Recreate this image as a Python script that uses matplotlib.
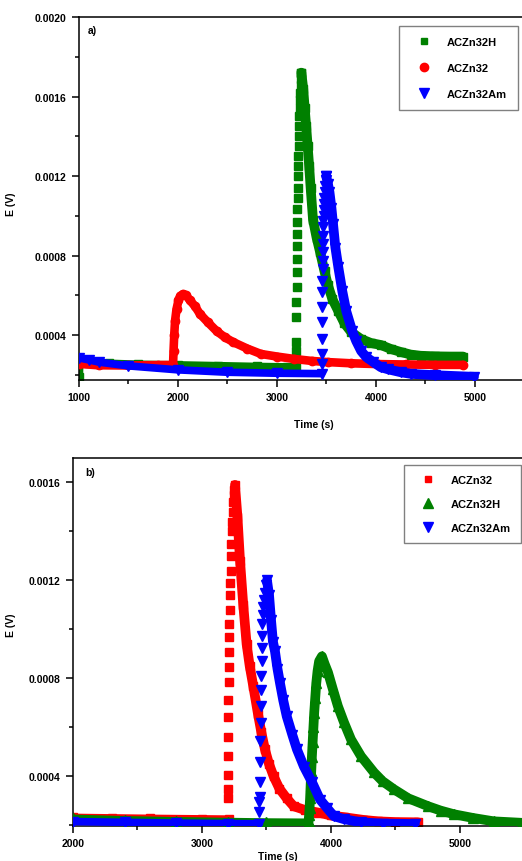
import matplotlib.pyplot as plt
from matplotlib.lines import Line2D
from matplotlib.ticker import MultipleLocator, FormatStrFormatter

plt.rcParams['font.family'] = ['Liberation Sans', 'DejaVu Sans']
plt.rcParams['font.weight'] = 'bold'

GREEN = '#008000'
RED = '#ff0000'
BLUE = '#0000ff'

# ---------------- panel a) ----------------
# ACZn32H (green squares)
a_h_t_base = [1003, 1008, 1100, 1300, 1600, 2000, 2400, 2800, 3100, 3195]
a_h_e_base = [0.00019, 0.00027, 0.000262, 0.000258, 0.000253, 0.00025, 0.000246, 0.000242, 0.00024, 0.000238]
a_h_t_rise = [3193, 3194, 3196, 3197, 3198, 3199, 3200, 3202, 3203, 3204, 3206, 3208, 3210,
              3212, 3214, 3216, 3218, 3221, 3224, 3227, 3230, 3233, 3236, 3239, 3242, 3246]
a_h_e_rise = [0.00032, 0.000365, 0.000489, 0.000568, 0.00064, 0.000715, 0.000782, 0.000849, 0.000908,
              0.00097, 0.001034, 0.00109, 0.00114, 0.0012, 0.00125, 0.0013, 0.00135, 0.0014, 0.00145,
              0.0015, 0.00154, 0.00158, 0.00162, 0.00166, 0.00169, 0.00172]
a_h_t_decay = [3246, 3265, 3280, 3295, 3310, 3325, 3340, 3364, 3400, 3434, 3480, 3515, 3560, 3620,
               3680, 3750, 3850, 3950, 4050, 4150, 4250, 4350, 4450, 4600, 4750, 4880]
a_h_e_decay = [0.00172, 0.00164, 0.00154, 0.00145, 0.00135, 0.00125, 0.00114, 0.00098, 0.00089,
               0.00082, 0.00072, 0.00065, 0.00058, 0.00052, 0.00046, 0.000415, 0.00038, 0.00036,
               0.00035, 0.00033, 0.000315, 0.000302, 0.000296, 0.000293, 0.000292, 0.000292]

# ACZn32 (red circles)
a_r_t = [1000, 1200, 1500, 1800, 1950, 1955, 1962, 1970, 1985, 2005, 2025, 2050, 2080, 2120, 2170,
         2222, 2300, 2390, 2470, 2556, 2700, 2838, 3000, 3172, 3350, 3515, 3750, 4020, 4300, 4600, 4880]
a_r_e = [0.000255, 0.000248, 0.000247, 0.000249, 0.00025, 0.00032, 0.0004, 0.00047, 0.00053, 0.000575,
         0.000598, 0.000606, 0.0006, 0.000575, 0.000546, 0.000506, 0.000465, 0.00042, 0.00039, 0.000365,
         0.000332, 0.000305, 0.000292, 0.00028, 0.00027, 0.000264, 0.000258, 0.000254, 0.000252,
         0.00025, 0.00025]

# ACZn32Am (blue down triangles)
a_m_t_base = [1000, 1100, 1200, 1500, 2000, 2500, 3000, 3450]
a_m_e_base = [0.000285, 0.000275, 0.000264, 0.000245, 0.000225, 0.000213, 0.000208, 0.000206]
a_m_t_rise = [3450, 3451, 3452, 3453, 3455, 3457, 3458, 3460, 3461, 3462, 3463, 3465, 3466, 3468,
              3470, 3472, 3475, 3478, 3482, 3486, 3491, 3497]
a_m_e_rise = [0.000254, 0.000304, 0.00038, 0.000465, 0.000541, 0.000616, 0.000672, 0.000732, 0.000772,
              0.000818, 0.000858, 0.000898, 0.000943, 0.000974, 0.001, 0.00103, 0.00106, 0.00109,
              0.00112, 0.00115, 0.00118, 0.0012]
a_m_t_decay = [3497, 3515, 3530, 3550, 3566, 3590, 3620, 3660, 3700, 3760, 3800, 3850, 3900, 3970,
               4050, 4120, 4250, 4350, 4600, 4990]
a_m_e_decay = [0.0012, 0.00116, 0.00112, 0.00104, 0.00096, 0.00084, 0.00074, 0.00062, 0.00052,
               0.00042, 0.00037, 0.00032, 0.00029, 0.000265, 0.000238, 0.000228, 0.000213,
               0.000205, 0.000198, 0.00019]

# ---------------- panel b) ----------------
# ACZn32 (red squares)
b_r_t_base = [2000, 2300, 2600, 3000, 3210]
b_r_e_base = [0.000232, 0.00023, 0.000228, 0.000226, 0.000225]
b_r_t_rise = [3198, 3199, 3200, 3201, 3202, 3203, 3204, 3206, 3207, 3209, 3211, 3213, 3215, 3217,
              3219, 3222, 3225, 3228, 3231, 3235, 3239, 3243, 3247, 3251]
b_r_e_rise = [0.00031, 0.00035, 0.000404, 0.000482, 0.000559, 0.000641, 0.00071, 0.000784, 0.000845,
              0.000906, 0.000967, 0.00102, 0.00108, 0.00114, 0.00119, 0.00124, 0.0013, 0.00135,
              0.0014, 0.00144, 0.00148, 0.00152, 0.00155, 0.00157]
b_r_t_decay = [3256, 3275, 3295, 3320, 3346, 3370, 3397, 3434, 3460, 3488, 3520, 3555, 3600, 3657,
               3710, 3800, 3900, 4000, 4100, 4250, 4364, 4500, 4674]
b_r_e_decay = [0.00159, 0.00146, 0.00128, 0.0011, 0.00094, 0.00085, 0.00077, 0.000655, 0.00058,
               0.00051, 0.00045, 0.0004, 0.00035, 0.00031, 0.000278, 0.000262, 0.000252, 0.00024,
               0.000233, 0.000222, 0.000216, 0.000213, 0.000212]

# ACZn32H (green up triangles)
b_h_t_base = [2000, 2400, 2800, 3200, 3500, 3826]
b_h_e_base = [0.000228, 0.000222, 0.000218, 0.000215, 0.000213, 0.000212]
b_h_t_peak = [3826, 3830, 3834, 3838, 3842, 3847, 3852, 3858, 3864, 3870, 3878, 3886, 3896, 3908,
              3930, 3950, 3977, 4015, 4054, 4101, 4155, 4233, 4333, 4400, 4488, 4600, 4752, 4850,
              4953, 5100, 5263, 5480]
b_h_e_peak = [0.000212, 0.00024, 0.00027, 0.00031, 0.00036, 0.00042, 0.00048, 0.00054, 0.0006,
              0.00066, 0.00072, 0.00078, 0.00083, 0.00087, 0.00089, 0.00086, 0.000824, 0.000755,
              0.000686, 0.00062, 0.000551, 0.000482, 0.000416, 0.00038, 0.000347, 0.00031,
              0.000278, 0.00026, 0.000245, 0.00023, 0.000216, 0.00021]

# ACZn32Am (blue down triangles)
b_m_t_base = [2000, 2400, 2800, 3200, 3445]
b_m_e_base = [0.000215, 0.000212, 0.000209, 0.000207, 0.000206]
b_m_t_rise = [3442, 3444, 3446, 3448, 3450, 3452, 3454, 3456, 3458, 3460, 3462, 3464, 3466, 3469,
              3472, 3476, 3481, 3487, 3494]
b_m_e_rise = [0.000253, 0.000294, 0.000316, 0.000376, 0.000457, 0.000543, 0.000616, 0.000686,
              0.000751, 0.000808, 0.000869, 0.000926, 0.000975, 0.00102, 0.00106, 0.00109,
              0.00112, 0.00115, 0.00118]
b_m_t_decay = [3504, 3520, 3535, 3550, 3566, 3585, 3605, 3630, 3657, 3700, 3736, 3790, 3853, 3915,
               3970, 4023, 4100, 4233, 4400, 4650]
b_m_e_decay = [0.0012, 0.00114, 0.00104, 0.00095, 0.00091, 0.00084, 0.00078, 0.00071, 0.000645,
               0.00057, 0.00051, 0.00044, 0.000376, 0.000305, 0.00027, 0.000237, 0.000225,
               0.000212, 0.000207, 0.000205]

LW_BASE = 5.5
LW_PEAK = 7.0


def band(ax, t, e, color, marker, ms, z, lw):
    ax.plot(t, e, color=color, lw=lw, marker=marker, ms=ms, mec=color,
            solid_joinstyle='round', solid_capstyle='round', zorder=z)


def dots(ax, t, e, color, marker, ms, z):
    ax.plot(t, e, ls='none', color=color, marker=marker, ms=ms, mec=color, zorder=z)


def style(ax, xmaj, ymaj):
    ax.spines['right'].set_visible(False)
    for s in ('left', 'bottom', 'top'):
        ax.spines[s].set_linewidth(1.1)
    ax.xaxis.set_major_locator(MultipleLocator(xmaj))
    ax.xaxis.set_minor_locator(MultipleLocator(xmaj / 2))
    ax.yaxis.set_major_locator(MultipleLocator(ymaj))
    ax.yaxis.set_minor_locator(MultipleLocator(ymaj / 2))
    ax.yaxis.set_major_formatter(FormatStrFormatter('%.4f'))
    ax.tick_params(which='major', direction='out', length=5, width=1.1, labelsize=7.5, pad=4)
    ax.tick_params(which='minor', direction='out', length=3, width=1.1)
    ax.tick_params(top=False, right=False, which='both')
    for lab in ax.get_xticklabels() + ax.get_yticklabels():
        lab.set_fontweight('bold')


fig = plt.figure(figsize=(5.22, 8.62), dpi=100)

# ---- a) ----
ax = fig.add_axes([79 / 522, 1 - 381 / 862, 443 / 522, 363 / 862])
band(ax, a_h_t_base, a_h_e_base, GREEN, 's', 5.5, 2, LW_BASE)
band(ax, a_h_t_decay, a_h_e_decay, GREEN, 's', 5.5, 2, LW_PEAK)
dots(ax, a_h_t_rise, a_h_e_rise, GREEN, 's', 5.5, 2)
band(ax, a_r_t, a_r_e, RED, 'o', 6, 3, 6.2)
band(ax, a_m_t_base, a_m_e_base, BLUE, 'v', 6.5, 4, LW_BASE)
band(ax, a_m_t_decay, a_m_e_decay, BLUE, 'v', 6.5, 4, LW_PEAK)
dots(ax, a_m_t_rise, a_m_e_rise, BLUE, 'v', 6.5, 4)
ax.set_xlim(1000, 5475)
ax.set_ylim(0.000174, 0.0020)
style(ax, 1000, 0.0004)
ax.set_xlabel('Time (s)', fontsize=7.5, fontweight='bold')
ax.xaxis.set_label_coords(0.53, -0.107)
ax.set_ylabel('E (V)', fontsize=7.5, fontweight='bold')
ax.yaxis.set_label_coords(-0.142, 0.488)
ax.text(0.02, 0.963, 'a)', transform=ax.transAxes, fontsize=7.5, fontweight='bold',
        ha='left', va='center')
handles = [Line2D([], [], ls='none', marker='s', color=GREEN, ms=5),
           Line2D([], [], ls='none', marker='o', color=RED, ms=6),
           Line2D([], [], ls='none', marker='v', color=BLUE, ms=7)]
leg = ax.legend(handles, ['ACZn32H', 'ACZn32', 'ACZn32Am'], loc='upper left',
                bbox_to_anchor=((399 - 79) / 443, (381 - 27) / 363), fontsize=8,
                frameon=True, fancybox=False, framealpha=1, edgecolor='#808080',
                borderpad=1.0, labelspacing=1.43, handlelength=2.5, handletextpad=0.8,
                borderaxespad=0)
leg.get_frame().set_linewidth(1.0)
for txt in leg.get_texts():
    txt.set_fontweight('bold')

# ---- b) ----
ax = fig.add_axes([73 / 522, 1 - 827 / 862, 449 / 522, 368 / 862])
band(ax, b_r_t_base, b_r_e_base, RED, 's', 5.5, 2, LW_BASE)
band(ax, b_r_t_decay, b_r_e_decay, RED, 's', 5.5, 2, LW_PEAK)
dots(ax, b_r_t_rise, b_r_e_rise, RED, 's', 5.5, 2)
band(ax, b_h_t_base, b_h_e_base, GREEN, '^', 6.5, 3, LW_BASE)
band(ax, b_h_t_peak, b_h_e_peak, GREEN, '^', 6.5, 3, LW_PEAK)
band(ax, b_m_t_base, b_m_e_base, BLUE, 'v', 6.5, 4, LW_BASE)
band(ax, b_m_t_decay, b_m_e_decay, BLUE, 'v', 6.5, 4, LW_PEAK)
dots(ax, b_m_t_rise, b_m_e_rise, BLUE, 'v', 6.5, 4)
ax.set_xlim(2000, 5481)
ax.set_ylim(0.000197, 0.0017)
style(ax, 1000, 0.0004)
ax.set_xlabel('Time (s)', fontsize=7.5, fontweight='bold')
ax.xaxis.set_label_coords(0.457, -0.068)
ax.set_ylabel('E (V)', fontsize=7.5, fontweight='bold')
ax.yaxis.set_label_coords(-0.127, 0.549)
ax.text(0.027, 0.961, 'b)', transform=ax.transAxes, fontsize=7.5, fontweight='bold',
        ha='left', va='center')
handles = [Line2D([], [], ls='none', marker='s', color=RED, ms=5),
           Line2D([], [], ls='none', marker='^', color=GREEN, ms=7),
           Line2D([], [], ls='none', marker='v', color=BLUE, ms=7)]
leg = ax.legend(handles, ['ACZn32', 'ACZn32H', 'ACZn32Am'], loc='upper left',
                bbox_to_anchor=((404 - 73) / 449, (827 - 466) / 368), fontsize=8,
                frameon=True, fancybox=False, framealpha=1, edgecolor='#808080',
                borderpad=0.9, labelspacing=1.25, handlelength=2.5, handletextpad=0.8,
                borderaxespad=0)
leg.get_frame().set_linewidth(1.0)
for txt in leg.get_texts():
    txt.set_fontweight('bold')

fig.savefig('out.png', dpi=100)
